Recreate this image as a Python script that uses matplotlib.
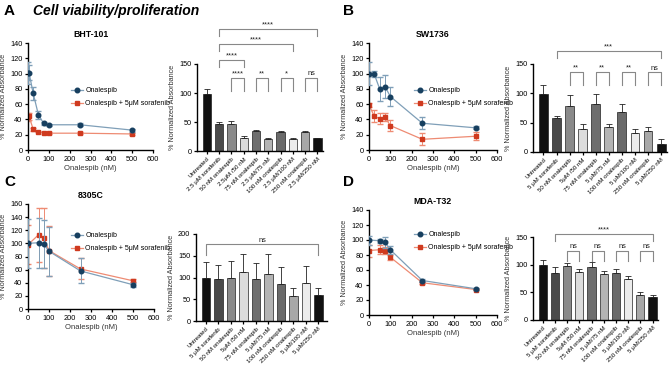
import matplotlib
matplotlib.use('Agg')
import matplotlib.pyplot as plt
from matplotlib.lines import Line2D
import numpy as np

plt.rcParams['font.family'] = ['Liberation Sans', 'DejaVu Sans']
plt.rcParams['font.size'] = 5.5

W, H = 669, 370

# ---- dose-response data ----
dose_a = [0, 5, 25, 50, 75, 100, 250, 500]
ona_a = [101, 101, 74, 46, 35, 33, 33, 26]
ona_a_err = [14, 10, 9, 5, 2, 1, 2, 2]
combo_a = [43, 44, 27, 24, 22, 22, 22, 21]
combo_a_err = [5, 5, 2, 1, 1, 1, 1, 1]

dose_b = [0, 25, 50, 75, 100, 250, 500]
ona_b = [100, 99, 80, 83, 70, 35, 29]
ona_b_err = [15, 4, 16, 15, 12, 8, 2]
combo_b = [59, 44, 41, 43, 32, 14, 18]
combo_b_err = [3, 8, 7, 5, 7, 8, 5]

dose_c = [0, 50, 75, 100, 250, 500]
ona_c = [100, 101, 99, 88, 58, 37]
ona_c_err = [37, 38, 36, 37, 19, 3]
combo_c = [98, 113, 108, 89, 61, 43]
combo_c_err = [30, 41, 46, 38, 16, 2]

dose_d = [0, 50, 75, 100, 250, 500]
ona_d = [100, 99, 97, 87, 46, 35]
ona_d_err = [6, 3, 7, 5, 2, 1]
combo_d = [86, 87, 86, 77, 43, 34]
combo_d_err = [8, 6, 5, 3, 1, 1]

# ---- bar data ----
labels_a = ['Untreated', '2.5 μM sorafenib', '50 nM onalespib', '2.5μM /50 nM',
            '75 nM onalespib', '2.5 μM/75 nM', '100 nM onalespib', '2.5 μM/100 nM',
            '250 nM onalespib', '2.5 μM/250 nM']
bars_a = [99, 46, 46, 23, 34, 21, 32, 21, 32, 22]
bars_a_err = [8, 4, 6, 3, 2, 1, 3, 2, 3, 1]

labels_b = ['Untreated', '5 μM sorafenib', '50 nM onalespib', '5μM /50 nM',
            '75 nM onalespib', '5 μM/75 nM', '100 nM onalespib', '5 μM/100 nM',
            '250 nM onalespib', '5 μM/250 nM']
bars_b = [99, 58, 79, 40, 82, 42, 69, 32, 35, 14]
bars_b_err = [16, 4, 18, 8, 17, 6, 13, 8, 8, 8]

labels_c = ['Untreated', '5 μM sorafenib', '50 nM onalespib', '5μM /50 nM',
            '75 nM onalespib', '5 μM/75 nM', '100 nM onalespib', '250 nM onalespib',
            '5 μM/100 nM', '5 μM/250 nM']
bars_c = [98, 96, 99, 112, 97, 107, 86, 57, 87, 60]
bars_c_err = [37, 32, 39, 43, 37, 46, 37, 20, 40, 17]

labels_d = labels_b
bars_d = [100, 85, 98, 86, 96, 84, 85, 75, 45, 42]
bars_d_err = [8, 10, 5, 7, 8, 4, 7, 4, 5, 4]

colors_ab = ['#111111', '#4a4a4a', '#8a8a8a', '#dcdcdc', '#6e6e6e',
             '#b4b4b4', '#6a6a6a', '#ececec', '#a8a8a8', '#111111']
colors_c = ['#111111', '#4a4a4a', '#8a8a8a', '#dcdcdc', '#6e6e6e',
            '#b4b4b4', '#6a6a6a', '#a8a8a8', '#ececec', '#111111']

BLUE, BLUE_L = '#173f5f', '#7f9fb8'
RED, RED_L = '#cf3a1f', '#ee8b73'


def axes_px(fig, l, t, r, b):
    return fig.add_axes([l / W, 1 - b / H, (r - l) / W, (b - t) / H])


def style(ax):
    for s in ['top', 'right']:
        ax.spines[s].set_visible(False)
    for s in ['left', 'bottom']:
        ax.spines[s].set_linewidth(1.0)
    ax.tick_params(width=0.9, length=2.5, pad=1.5, labelsize=5.3)


def line_panel(ax, dose, ona, ona_e, combo, combo_e, title, ymax, legend_xy):
    style(ax)
    ax.errorbar(dose, combo, yerr=combo_e, color=RED_L, lw=0.9, capsize=2,
                elinewidth=0.7, marker='s', ms=3.3, mfc=RED, mec=RED, zorder=2)
    ax.errorbar(dose, ona, yerr=ona_e, color=BLUE_L, lw=0.9, capsize=2,
                elinewidth=0.7, marker='o', ms=3.3, mfc=BLUE, mec=BLUE, zorder=3)
    ax.set_xlim(0, 600)
    ax.set_ylim(0, ymax)
    ax.set_xticks(range(0, 601, 100))
    ax.set_yticks(range(0, ymax + 1, 20))
    ax.set_xlabel('Onalespib (nM)', fontsize=5.5, labelpad=2, color='#333333')
    ax.set_ylabel('% Normalized Absorbance', fontsize=5.2, labelpad=2, color='#333333')
    ax.set_title(title, fontsize=6.3, fontweight='bold', pad=4)
    handles = [Line2D([], [], color=BLUE_L, lw=0.9, marker='o', ms=3.3, mfc=BLUE, mec=BLUE),
               Line2D([], [], color=RED_L, lw=0.9, marker='s', ms=3.3, mfc=RED, mec=RED)]
    ax.legend(handles, ['Onalespib', 'Onalespib + 5μM sorafenib'], loc='upper left',
              bbox_to_anchor=(legend_xy[0] / W, 1 - legend_xy[1] / H),
              bbox_transform=ax.figure.transFigure, frameon=False, fontsize=5.0,
              handlelength=1.6, handletextpad=0.4, labelspacing=0.8, borderpad=0)


def bar_panel(ax, labels, vals, errs, colors, ymax, step, xlim):
    style(ax)
    x = np.arange(len(vals))
    ax.bar(x, vals, width=0.68, color=colors, edgecolor='#222222', linewidth=0.5, zorder=2)
    ax.errorbar(x, vals, yerr=[np.zeros(len(errs)), errs], fmt='none', ecolor='#222222',
                elinewidth=0.6, capsize=2, capthick=0.6, zorder=3)
    ax.set_xlim(*xlim)
    ax.set_ylim(0, ymax)
    ax.set_yticks(range(0, ymax + 1, step))
    ax.set_xticks(x)
    ax.set_xticklabels(labels, rotation=45, ha='right', rotation_mode='anchor', fontsize=4.4)
    ax.set_ylabel('% Normalized Absorbance', fontsize=5.2, labelpad=2, color='#333333')


def bracket(ax, i, j, y, leg, text, color='#888888'):
    ax.plot([i, i, j, j], [y - leg, y, y, y - leg], color=color, lw=0.8,
            clip_on=False, zorder=4)
    ax.text((i + j) / 2, y + 1, text, ha='center', va='bottom', fontsize=5.3,
            color='#222222', clip_on=False)


fig = plt.figure(figsize=(W / 100, H / 100), dpi=100)

# A
ax = axes_px(fig, 28, 43, 153, 150)
line_panel(ax, dose_a, ona_a, ona_a_err, combo_a, combo_a_err, 'BHT-101', 140, (68, 84))
ax = axes_px(fig, 197, 64, 323, 151)
bar_panel(ax, labels_a, bars_a, bars_a_err, colors_ab, 150, 50, (-0.8, 9.45))
bracket(ax, 1, 9, 210, 12, '****')
bracket(ax, 1, 7, 184, 12, '****')
bracket(ax, 1, 3, 157, 12, '****')
bracket(ax, 2, 3, 126, 22, '****')
bracket(ax, 4, 5, 126, 22, '**')
bracket(ax, 6, 7, 126, 22, '*')
bracket(ax, 8, 9, 126, 22, 'ns')

# B
ax = axes_px(fig, 369, 43, 497, 150)
line_panel(ax, dose_b, ona_b, ona_b_err, combo_b, combo_b_err, 'SW1736', 140, (411, 84))
ax = axes_px(fig, 533, 64, 667, 152)
bar_panel(ax, labels_b, bars_b, bars_b_err, colors_ab, 150, 50, (-0.8, 9.45))
bracket(ax, 1, 9, 172, 12, '***')
for i, t in zip([2, 4, 6, 8], ['**', '**', '**', 'ns']):
    bracket(ax, i, i + 1, 136, 22, t)

# C
ax = axes_px(fig, 28, 204, 154, 309)
line_panel(ax, dose_c, ona_c, ona_c_err, combo_c, combo_c_err, '8305C', 160, (68, 229))
ax = axes_px(fig, 196, 234, 327, 321)
bar_panel(ax, labels_c, bars_c, bars_c_err, colors_c, 200, 50, (-0.8, 9.7))
bracket(ax, 0, 9, 177, 25, 'ns')

# D
ax = axes_px(fig, 369, 210, 497, 315)
line_panel(ax, dose_d, ona_d, ona_d_err, combo_d, combo_d_err, 'MDA-T32', 140, (411, 228))
ax = axes_px(fig, 533, 237, 658, 320)
bar_panel(ax, labels_d, bars_d, bars_d_err, colors_ab, 150, 50, (-0.8, 9.45))
bracket(ax, 1, 9, 155, 12, '****')
for i in [2, 4, 6, 8]:
    bracket(ax, i, i + 1, 125, 18, 'ns')

# panel letters and heading
for letter, x, y in [('A', 4, 11), ('B', 343, 11), ('C', 4, 182), ('D', 343, 182)]:
    fig.text(x / W, 1 - y / H, letter, fontsize=11, fontweight='bold', va='center')
fig.text(33 / W, 1 - 11 / H, 'Cell viability/proliferation', fontsize=10,
         fontweight='bold', style='italic', va='center')

fig.savefig('out.png', dpi=100, facecolor='white')
